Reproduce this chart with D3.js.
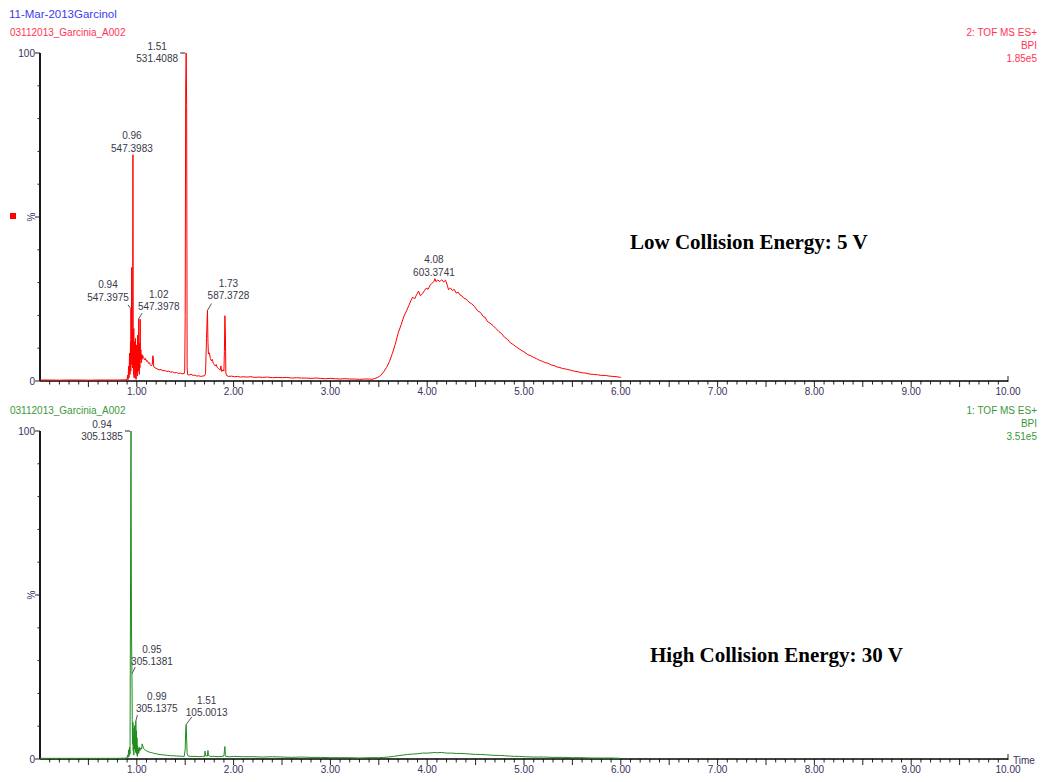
<!DOCTYPE html>
<html>
<head>
<meta charset="utf-8">
<script src="https://cdn.jsdelivr.net/npm/d3@7"></script>
<style>
  body { margin: 0; background: #fff; }
  svg { display: block; }
  text { font-family: "Liberation Sans", Arial, sans-serif; }
  text.caption { font-family: "Liberation Serif", "Times New Roman", serif; font-weight: bold; }
</style>
</head>
<body>
<svg id="chart" width="1045" height="782"></svg>
<script>
// Base peak intensity chromatograms (BPI, % of max) vs retention time (min)

// Low collision energy (5 V) trace: [time, %]
const lowCE = [
  [0.00,0.3],[0.10,0.3],[0.20,0.25],[0.30,0.3],[0.40,0.3],[0.50,0.25],[0.60,0.3],[0.70,0.3],[0.80,0.3],[0.88,0.35],[0.90,0.5],
  [0.905,1.8],[0.91,0.4],[0.915,4.5],[0.92,1.0],[0.925,8.5],[0.93,2.0],[0.935,12.0],[0.938,3.0],[0.94,22.0],[0.943,5.0],
  [0.947,34.6],[0.951,7.0],[0.955,15.0],[0.957,4.0],[0.96,69.0],[0.963,9.0],[0.966,2.0],[0.969,16.0],[0.972,1.0],[0.975,12.0],
  [0.978,3.5],[0.981,9.5],[0.984,0.8],[0.987,13.0],[0.99,4.0],[0.993,0.5],[0.996,11.0],[0.999,2.5],[1.002,8.0],[1.005,1.5],
  [1.008,14.0],[1.011,5.0],[1.014,10.0],[1.017,3.0],[1.02,19.0],[1.023,7.5],[1.026,2.0],[1.029,11.5],[1.032,4.0],[1.035,18.8],
  [1.038,6.5],[1.042,9.5],[1.046,5.5],[1.05,8.2],[1.055,6.6],[1.06,7.8],[1.07,7.2],[1.08,6.4],[1.09,6.9],[1.10,6.0],
  [1.11,6.2],[1.12,5.4],[1.13,5.6],[1.14,4.9],[1.15,4.6],[1.16,5.0],[1.165,7.7],[1.17,7.4],[1.175,4.3],[1.19,4.0],
  [1.21,3.7],[1.23,3.4],[1.25,3.5],[1.27,3.1],[1.29,3.2],[1.31,2.9],[1.33,3.0],[1.35,2.7],[1.37,2.8],[1.39,2.5],
  [1.41,2.6],[1.43,2.3],[1.45,2.4],[1.47,2.2],[1.49,2.3],[1.495,3.0],[1.50,20.0],[1.505,89.0],[1.51,100.0],[1.515,84.0],
  [1.52,4.0],[1.525,2.0],[1.54,1.8],[1.56,2.1],[1.58,1.7],[1.60,1.8],[1.62,1.5],[1.64,1.6],[1.66,1.4],[1.68,1.5],
  [1.70,1.6],[1.71,2.2],[1.72,13.0],[1.73,21.5],[1.735,12.0],[1.74,8.2],[1.75,8.6],[1.76,6.8],[1.77,6.2],[1.78,6.6],
  [1.79,5.4],[1.80,5.0],[1.81,4.6],[1.82,5.0],[1.83,4.2],[1.84,3.9],[1.85,3.6],[1.86,3.3],[1.87,4.6],[1.875,3.0],
  [1.88,2.9],[1.89,3.4],[1.90,3.0],[1.905,9.0],[1.91,19.9],[1.915,15.0],[1.92,2.4],[1.93,1.6],[1.95,1.4],[1.98,1.5],
  [2.01,1.3],[2.04,1.4],[2.07,1.2],[2.10,1.3],[2.14,1.2],[2.18,1.3],[2.22,1.1],[2.26,1.2],[2.30,1.1],[2.35,1.2],
  [2.40,1.0],[2.45,1.1],[2.50,1.0],[2.55,1.1],[2.60,0.9],[2.65,1.0],[2.70,0.9],[2.75,0.9],[2.80,0.8],[2.85,0.9],
  [2.90,0.8],[2.95,0.7],[3.00,0.8],[3.05,0.7],[3.10,0.6],[3.15,0.7],[3.20,0.6],[3.25,0.6],[3.30,0.5],[3.35,0.6],
  [3.40,0.6],[3.43,0.5],[3.46,0.8],[3.49,1.1],[3.52,1.7],[3.55,2.8],[3.58,4.1],[3.61,5.9],[3.64,8.4],[3.67,11.2],
  [3.70,14.6],[3.73,17.1],[3.76,19.8],[3.79,21.6],[3.81,23.0],[3.83,24.4],[3.85,25.6],[3.87,25.0],[3.89,26.3],[3.91,27.4],
  [3.93,26.0],[3.95,26.6],[3.97,27.5],[3.99,28.3],[4.01,28.0],[4.03,29.2],[4.05,29.8],[4.07,30.4],[4.08,31.2],[4.09,30.3],
  [4.11,30.8],[4.13,30.3],[4.15,30.9],[4.17,30.2],[4.19,30.7],[4.21,29.0],[4.22,27.8],[4.24,28.4],[4.26,27.6],[4.28,27.9],
  [4.30,26.8],[4.32,27.1],[4.34,26.2],[4.36,25.9],[4.38,25.2],[4.40,25.0],[4.43,24.1],[4.46,23.5],[4.49,22.7],[4.52,21.4],
  [4.55,20.9],[4.58,19.6],[4.60,19.4],[4.62,18.2],[4.65,17.6],[4.68,16.9],[4.71,16.0],[4.74,15.1],[4.77,14.4],[4.80,13.3],
  [4.83,12.7],[4.86,11.6],[4.89,11.1],[4.92,10.4],[4.95,9.8],[4.98,9.2],[5.01,8.7],[5.04,8.0],[5.07,7.7],[5.10,7.2],
  [5.13,6.8],[5.16,6.3],[5.19,6.0],[5.22,5.6],[5.25,5.4],[5.28,4.9],[5.31,4.7],[5.34,4.3],[5.37,4.1],[5.40,3.8],
  [5.44,3.6],[5.48,3.3],[5.52,3.0],[5.56,2.8],[5.60,2.5],[5.64,2.4],[5.68,2.1],[5.72,2.0],[5.76,1.9],[5.80,1.7],
  [5.84,1.7],[5.88,1.5],[5.92,1.4],[5.96,1.3],[6.00,1.1]
];

// High collision energy (30 V) trace: [time, %]
const highCE = [
  [0.00,0.2],[0.10,0.2],[0.20,0.2],[0.30,0.2],[0.40,0.2],[0.50,0.2],[0.60,0.2],[0.70,0.2],[0.80,0.2],[0.88,0.25],[0.90,0.4],
  [0.905,1.2],[0.91,0.5],[0.915,2.8],[0.92,0.8],[0.925,3.6],[0.93,1.5],[0.935,50.0],[0.94,100.0],[0.945,40.0],[0.95,26.0],
  [0.953,12.0],[0.956,4.5],[0.96,11.2],[0.963,2.5],[0.966,7.5],[0.969,1.2],[0.972,9.5],[0.975,3.0],[0.978,10.2],[0.981,4.0],
  [0.984,6.0],[0.987,2.0],[0.99,11.6],[0.993,3.5],[0.996,8.6],[0.999,1.5],[1.002,6.5],[1.005,0.8],[1.008,4.0],[1.011,1.5],
  [1.015,3.2],[1.02,1.8],[1.025,3.6],[1.03,2.4],[1.04,3.4],[1.05,3.0],[1.055,4.6],[1.06,4.2],[1.07,3.2],[1.08,3.0],
  [1.09,2.6],[1.10,2.5],[1.12,2.2],[1.14,2.0],[1.16,1.9],[1.18,1.7],[1.20,1.6],[1.23,1.4],[1.26,1.3],[1.29,1.2],
  [1.32,1.1],[1.35,1.0],[1.38,1.0],[1.41,0.9],[1.44,0.9],[1.47,0.8],[1.49,0.8],[1.50,3.0],[1.505,8.5],[1.51,10.5],
  [1.515,6.0],[1.52,1.6],[1.53,0.9],[1.56,0.8],[1.60,0.8],[1.64,0.7],[1.68,0.8],[1.70,0.8],[1.705,2.4],[1.71,1.0],
  [1.73,0.9],[1.735,2.6],[1.74,1.1],[1.76,0.8],[1.80,0.8],[1.84,0.7],[1.88,0.8],[1.90,0.9],[1.905,2.5],[1.91,3.8],
  [1.915,1.4],[1.92,0.8],[1.96,0.7],[2.00,0.8],[2.10,0.7],[2.20,0.7],[2.30,0.6],[2.40,0.7],[2.50,0.6],[2.60,0.5],
  [2.70,0.6],[2.80,0.5],[2.90,0.5],[3.00,0.4],[3.10,0.4],[3.20,0.4],[3.30,0.3],[3.40,0.4],[3.50,0.4],[3.55,0.5],
  [3.60,0.6],[3.65,0.8],[3.70,1.0],[3.75,1.2],[3.80,1.4],[3.85,1.5],[3.90,1.6],[3.95,1.8],[4.00,1.8],[4.05,1.9],
  [4.08,2.0],[4.10,1.9],[4.15,2.0],[4.20,1.8],[4.25,1.8],[4.30,1.7],[4.35,1.7],[4.40,1.6],[4.45,1.5],[4.50,1.4],
  [4.55,1.4],[4.60,1.3],[4.65,1.2],[4.70,1.1],[4.75,1.1],[4.80,1.0],[4.85,0.9],[4.90,0.8],[4.95,0.8],[5.00,0.7],
  [5.10,0.6],[5.20,0.6],[5.30,0.5],[5.40,0.5],[5.50,0.4],[5.60,0.4],[5.70,0.3],[5.80,0.3],[5.90,0.3],[6.00,0.2]
];

// Annotated peaks: retention time and base peak m/z
const lowPeaks = [
  { time: 1.51, mz: "531.4088" },
  { time: 0.96, mz: "547.3983" },
  { time: 0.94, mz: "547.3975" },
  { time: 1.02, mz: "547.3978" },
  { time: 1.73, mz: "587.3728" },
  { time: 4.08, mz: "603.3741" }
];
const highPeaks = [
  { time: 0.94, mz: "305.1385" },
  { time: 0.95, mz: "305.1381" },
  { time: 0.99, mz: "305.1375" },
  { time: 1.51, mz: "105.0013" }
];

const xTickLabels = [1, 2, 3, 4, 5, 6, 7, 8, 9, 10];
const yTickValues = [0, 10, 20, 30, 40, 50, 60, 70, 80, 90, 100];

// Label placement relative to each peak apex (pixels)
const lowLabelLayout = {
  "1.51": { dx: -29, dy: 9, mark: true },
  "0.96": { dx: -1, dy: -3 },
  "0.94": { dx: -23, dy: -8, lead: [-3, -4] },
  "1.02": { dx: 20, dy: -8.5, lead: [3.4, -5.6] },
  "1.73": { dx: 21, dy: -11, lead: [4, -7] },
  "4.08": { dx: -1, dy: -3 }
};
const highLabelLayout = {
  "0.94": { dx: -29, dy: 9, mark: true },
  "0.95": { dx: 20, dy: -8.5, lead: [3.3, -6.6] },
  "0.99": { dx: 21, dy: -8.6, lead: [1.6, -6] },
  "1.51": { dx: 20.5, dy: -8.2, lead: [5.7, -7.7] }
};

const svg = d3.select("#chart");
const x = d3.scaleLinear().domain([0, 10]).range([40, 1008]);
const labelColor = "#383848";
const axisTextColor = "#3a2f5e";

svg.append("text").attr("x", 9).attr("y", 18)
  .attr("font-size", "11.5px").attr("fill", "#3b3bf0").text("11-Mar-2013Garcinol");

function drawPanel(cfg) {
  const y = d3.scaleLinear().domain([0, 100]).range([cfg.y0, cfg.y0 - 328]);
  const g = svg.append("g");

  // header texts
  g.append("text").attr("x", 10).attr("y", cfg.y0 - 345.5)
    .attr("font-size", "10px").attr("fill", cfg.textColor).text("03112013_Garcinia_A002");
  cfg.rightLines.forEach((t, i) => {
    g.append("text").attr("x", 1037).attr("y", cfg.y0 - 345.5 + i * 13.3)
      .attr("text-anchor", "end").attr("font-size", "10px").attr("fill", cfg.textColor).text(t);
  });

  // x axis: minor ticks every 0.1, longer at 0.5
  const minor = d3.range(1, 100).map(i => i / 10);
  g.append("g").selectAll("line").data(minor).join("line")
    .attr("x1", d => x(d)).attr("x2", d => x(d))
    .attr("y1", cfg.y0).attr("y2", d => cfg.y0 + (Math.round(d * 10) % 5 === 0 ? 6 : 3.5))
    .attr("stroke", "#222").attr("stroke-width", 1);
  g.append("line").attr("x1", x(10)).attr("x2", x(10))
    .attr("y1", cfg.y0 - 5).attr("y2", cfg.y0 + 1).attr("stroke", "#222");
  g.append("line").attr("x1", x(0)).attr("x2", x(10))
    .attr("y1", cfg.y0).attr("y2", cfg.y0).attr("stroke", "#000").attr("stroke-width", 1.6);
  g.append("g").selectAll("text").data(xTickLabels).join("text")
    .attr("x", d => x(d)).attr("y", cfg.y0 + 14)
    .attr("text-anchor", "middle").attr("font-size", "10px").attr("fill", axisTextColor)
    .text(d => d3.format(".2f")(d));

  // y axis
  g.append("line").attr("x1", 40).attr("x2", 40)
    .attr("y1", y(100)).attr("y2", cfg.y0).attr("stroke", "#000").attr("stroke-width", 1.8);
  g.append("g").selectAll("line").data(yTickValues).join("line")
    .attr("x1", d => (d % 50 === 0 ? 35 : 37.5)).attr("x2", 40)
    .attr("y1", d => y(d)).attr("y2", d => y(d))
    .attr("stroke", "#222").attr("stroke-width", 1);
  g.append("text").attr("x", 35).attr("y", y(100) + 3.5).attr("text-anchor", "end")
    .attr("font-size", "10px").attr("fill", axisTextColor).text("100");
  g.append("text").attr("x", 35).attr("y", cfg.y0 + 3.5).attr("text-anchor", "end")
    .attr("font-size", "10px").attr("fill", axisTextColor).text("0");
  g.append("text").attr("transform", `translate(34.5,${y(50)}) rotate(-90)`)
    .attr("text-anchor", "middle").attr("font-size", "10px").attr("fill", axisTextColor).text("%");

  if (cfg.square) {
    g.append("rect").attr("x", 10).attr("y", y(50) - 4).attr("width", 6).attr("height", 6).attr("fill", "#ff0000");
  }

  // trace
  const line = d3.line().x(d => x(d[0])).y(d => y(d[1]));
  g.append("path").datum(cfg.trace).attr("d", line)
    .attr("fill", "none").attr("stroke", cfg.lineColor).attr("stroke-width", 1)
    .attr("stroke-linejoin", "round");

  // peak annotations
  cfg.peaks.forEach(p => {
    const pt = cfg.trace.find(d => Math.abs(d[0] - p.time) < 1e-9);
    const px = x(pt[0]), py = y(pt[1]);
    const lay = cfg.layout[p.time.toFixed(2)];
    const cx = px + lay.dx, by = py + lay.dy;
    g.append("text").attr("x", cx).attr("y", by - 12.5).attr("text-anchor", "middle")
      .attr("font-size", "10px").attr("fill", labelColor).text(p.time.toFixed(2));
    g.append("text").attr("x", cx).attr("y", by).attr("text-anchor", "middle")
      .attr("font-size", "10px").attr("fill", labelColor).text(p.mz);
    if (lay.lead) {
      g.append("line").attr("x1", px).attr("y1", py)
        .attr("x2", px + lay.lead[0]).attr("y2", py + lay.lead[1])
        .attr("stroke", "#444").attr("stroke-width", 0.9);
    }
    if (lay.mark) {
      g.append("line").attr("x1", px - 6).attr("x2", px - 1)
        .attr("y1", py).attr("y2", py).attr("stroke", "#222").attr("stroke-width", 1);
    }
  });

  // caption
  g.append("text").attr("class", "caption")
    .attr("x", cfg.caption[1]).attr("y", cfg.caption[2])
    .attr("font-size", "21px").attr("fill", "#000")
    .text(cfg.caption[0]);
}

drawPanel({
  y0: 381, trace: lowCE, peaks: lowPeaks, layout: lowLabelLayout,
  lineColor: "#ff0000", textColor: "#ff3355", square: true,
  rightLines: ["2: TOF MS ES+", "BPI", "1.85e5"],
  caption: ["Low Collision Energy: 5 V", 630, 249]
});
drawPanel({
  y0: 759, trace: highCE, peaks: highPeaks, layout: highLabelLayout,
  lineColor: "#1e8c1e", textColor: "#3a983a", square: false,
  rightLines: ["1: TOF MS ES+", "BPI", "3.51e5"],
  caption: ["High Collision Energy: 30 V", 650, 662]
});

svg.append("text").attr("x", 1013).attr("y", 763.5)
  .attr("font-size", "10px").attr("fill", axisTextColor).text("Time");
</script>
</body>
</html>
